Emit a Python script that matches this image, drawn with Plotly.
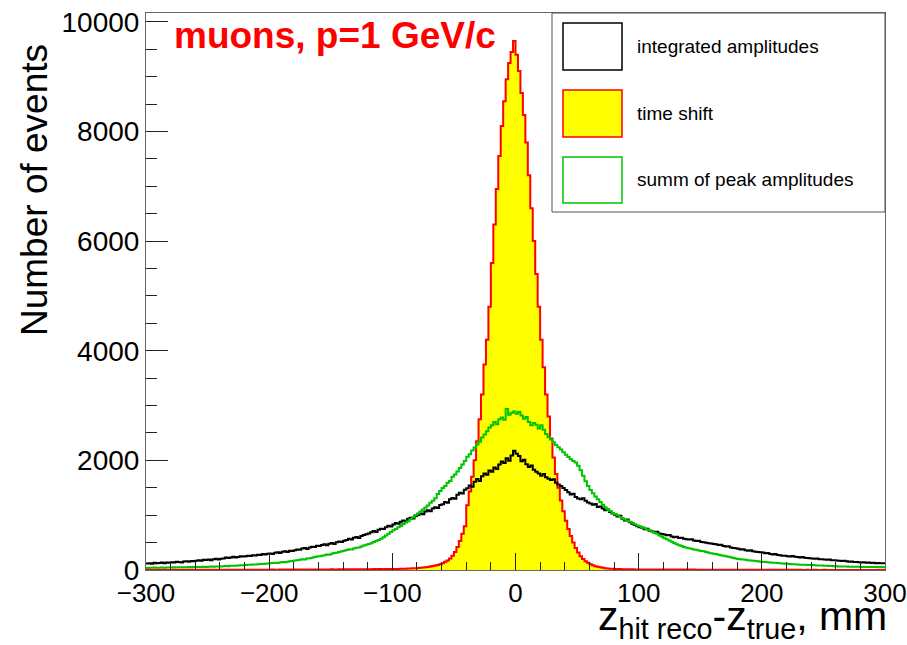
import numpy as np
import plotly.graph_objects as go

# ---------------- data ----------------
x_min, x_max, bin_width = -300.0, 300.0, 2.0

integrated_amplitudes = [
    118, 125, 112, 130, 122, 128, 135, 124, 138, 131,
    142, 136, 150, 147, 139, 155, 160, 149, 166, 158,
    170, 176, 168, 185, 181, 190, 178, 196, 203, 192,
    205, 212, 226, 218, 230, 241, 228, 236, 252, 244,
    250, 262, 255, 271, 266, 280, 274, 290, 283, 296,
    301, 294, 315, 322, 310, 334, 340, 328, 352, 346,
    362, 375, 368, 390, 402, 385, 411, 425, 418, 441,
    436, 458, 470, 452, 481, 492, 476, 505, 520, 511,
    532, 548, 570, 556, 589, 602, 585, 621, 640, 652,
    668, 690, 712, 695, 735, 752, 748, 781, 806, 795,
    830, 858, 842, 880, 905, 890, 935, 952, 940, 985,
    1002, 1030, 1015, 1065, 1088, 1070, 1120, 1145, 1132, 1185,
    1198, 1240, 1225, 1290, 1315, 1298, 1372, 1410, 1395, 1462,
    1490, 1542, 1518, 1610, 1658, 1625, 1712, 1760, 1738, 1815,
    1790, 1868, 1842, 1925, 1980, 1952, 2040, 1995, 2090, 2175,
    2120, 2080, 1985, 2010, 1930, 1880, 1905, 1830, 1790, 1760,
    1720, 1750, 1690, 1665, 1640, 1655, 1590, 1560, 1530, 1495,
    1460, 1420, 1375, 1390, 1330, 1305, 1290, 1310, 1265, 1230,
    1215, 1190, 1205, 1150, 1160, 1120, 1090, 1105, 1060, 1030,
    1010, 975, 990, 935, 905, 920, 870, 845, 820, 800,
    780, 772, 745, 752, 718, 705, 690, 698, 668, 655,
    648, 632, 640, 612, 598, 605, 585, 590, 570, 562,
    555, 562, 540, 528, 535, 512, 505, 498, 490, 482,
    476, 468, 455, 462, 440, 428, 435, 410, 402, 395,
    388, 375, 380, 362, 352, 358, 340, 335, 328, 322,
    318, 305, 310, 292, 285, 290, 272, 268, 262, 258,
    252, 248, 256, 240, 236, 230, 235, 222, 218, 215,
    212, 205, 210, 198, 195, 190, 186, 192, 180, 176,
    172, 168, 162, 170, 158, 152, 156, 148, 145, 141,
    138, 142, 132, 135, 128, 131, 124, 128, 122, 125,
]

time_shift = [
    2, 3, 1, 2, 3, 2, 2, 3, 2, 1,
    2, 3, 2, 2, 3, 2, 3, 2, 3, 3,
    3, 2, 3, 4, 3, 3, 4, 3, 4, 3,
    4, 3, 4, 4, 5, 4, 4, 5, 4, 5,
    5, 4, 5, 6, 5, 5, 6, 5, 6, 6,
    6, 7, 6, 6, 7, 7, 6, 8, 7, 7,
    8, 7, 8, 9, 8, 8, 9, 8, 10, 9,
    9, 10, 9, 11, 10, 12, 11, 10, 12, 11,
    12, 11, 13, 12, 14, 13, 12, 15, 14, 13,
    14, 15, 16, 14, 17, 16, 15, 18, 17, 19,
    18, 20, 19, 22, 24, 23, 26, 28, 30, 33,
    36, 40, 44, 50, 56, 64, 72, 82, 92, 105,
    125, 150, 175, 210, 260, 330, 420, 530, 660, 800,
    1180, 1430, 1700, 2000, 2350, 2750, 3200, 3750, 4200, 4800,
    5600, 6300, 6950, 7550, 8100, 8550, 8950, 9250, 9450, 9650,
    9400, 9100, 8700, 8300, 7800, 7200, 6600, 6000, 5400, 4800,
    4200, 3700, 3200, 2800, 2400, 2050, 1750, 1500, 1270, 1070,
    900, 750, 620, 500, 400, 320, 250, 200, 160, 130,
    105, 85, 70, 58, 48, 40, 34, 29, 25, 22,
    20, 18, 17, 15, 14, 13, 13, 12, 11, 11,
    10, 11, 9, 10, 9, 10, 8, 9, 9, 8,
    8, 9, 7, 8, 8, 7, 8, 7, 6, 7,
    7, 6, 7, 6, 5, 6, 6, 5, 6, 5,
    5, 6, 5, 4, 5, 5, 4, 5, 4, 4,
    4, 5, 4, 4, 3, 4, 4, 3, 4, 3,
    3, 4, 3, 3, 4, 3, 3, 2, 3, 3,
    3, 2, 3, 3, 2, 3, 2, 2, 3, 2,
    2, 3, 2, 2, 2, 3, 2, 2, 1, 2,
    2, 2, 1, 2, 2, 1, 2, 2, 1, 2,
    1, 2, 1, 1, 2, 1, 1, 2, 1, 1,
]

summ_peak_amplitudes = [
    38, 42, 40, 44, 41, 43, 45, 42, 46, 44,
    46, 48, 45, 50, 49, 51, 48, 53, 52, 54,
    55, 53, 57, 58, 56, 60, 62, 59, 64, 66,
    65, 68, 72, 70, 76, 79, 77, 83, 86, 88,
    92, 95, 98, 101, 99, 106, 110, 108, 115, 118,
    122, 126, 132, 129, 138, 144, 141, 152, 160, 165,
    172, 180, 188, 195, 192, 208, 216, 222, 235, 246,
    252, 262, 270, 282, 278, 296, 308, 315, 330, 342,
    352, 365, 378, 372, 392, 405, 412, 430, 448, 462,
    475, 490, 512, 530, 548, 572, 596, 628, 660, 695,
    725, 748, 782, 802, 840, 865, 890, 925, 962, 1002,
    1030, 1065, 1102, 1140, 1175, 1228, 1262, 1310, 1385, 1440,
    1495, 1530, 1590, 1625, 1700, 1740, 1795, 1860, 1925, 1990,
    2065, 2110, 2180, 2235, 2290, 2340, 2415, 2470, 2530, 2600,
    2640, 2700, 2660, 2750, 2780, 2740, 2935, 2830, 2870, 2890,
    2850, 2880, 2820, 2760, 2790, 2700, 2640, 2680, 2650, 2580,
    2640, 2560, 2480, 2420, 2380, 2330, 2280, 2240, 2200, 2150,
    2100, 2060, 2020, 1990, 1960, 1900, 1820, 1720, 1620, 1530,
    1460, 1400, 1340, 1290, 1240, 1190, 1145, 1105, 1075, 1040,
    1020, 1000, 965, 940, 920, 905, 880, 860, 835, 812,
    800, 782, 760, 740, 725, 700, 680, 660, 630, 605,
    580, 560, 538, 515, 492, 470, 452, 438, 420, 405,
    398, 388, 375, 368, 355, 348, 340, 328, 315, 305,
    298, 292, 280, 270, 262, 252, 240, 232, 218, 208,
    202, 195, 190, 185, 178, 175, 168, 162, 158, 152,
    148, 144, 140, 136, 132, 130, 126, 122, 118, 116,
    114, 110, 106, 104, 100, 98, 96, 94, 92, 90,
    89, 86, 84, 82, 80, 78, 76, 74, 72, 70,
    69, 66, 65, 63, 62, 61, 60, 59, 58, 58,
    57, 56, 55, 56, 54, 53, 54, 52, 53, 52,
]

legend_labels = ["integrated amplitudes", "time shift", "summ of peak amplitudes"]
x_ticks = [-300, -200, -100, 0, 100, 200, 300]
y_ticks = [0, 2000, 4000, 6000, 8000, 10000]
y_tick_text = ["0", "2000", "4000", "6000", "8000", "10000"]

# ---------------- figure ----------------
W, H = 907, 645
L, R, T, B = 146, 885, 13, 570   # frame in pixels


def px(x):
    return (x - L) / (R - L)


def py(y):
    return (B - y) / (B - T)


n_bins = len(time_shift)
edges = x_min + bin_width * np.arange(n_bins + 1)


def step(vals):
    v = list(vals) + [vals[-1]]
    return edges, v


FONT = "Liberation Sans, Arial, Helvetica, sans-serif"
GREEN = "#00c400"
LW = 2

fig = go.Figure()
xs, ys = step(time_shift)
fig.add_trace(go.Scatter(x=xs, y=ys, mode="lines", line=dict(color="#ff0000", width=LW, shape="hv"),
                         fill="tozeroy", fillcolor="#ffff00", name=legend_labels[1], showlegend=False))
xs, ys = step(integrated_amplitudes)
fig.add_trace(go.Scatter(x=xs, y=ys, mode="lines", line=dict(color="#000000", width=LW, shape="hv"),
                         name=legend_labels[0], showlegend=False))
xs, ys = step(summ_peak_amplitudes)
fig.add_trace(go.Scatter(x=xs, y=ys, mode="lines", line=dict(color=GREEN, width=LW, shape="hv"),
                         name=legend_labels[2], showlegend=False))

fig.update_layout(
    width=W, height=H,
    margin=dict(l=L, r=W - R, t=T, b=H - B, pad=0, autoexpand=False),
    paper_bgcolor="white", plot_bgcolor="white",
    font=dict(family=FONT, color="black"),
    xaxis=dict(range=[x_min, x_max], tickvals=x_ticks, ticks="inside", ticklen=17, tickwidth=1,
               tickcolor="#222", showline=True, linecolor="#666", linewidth=1, mirror=True,
               showgrid=False, zeroline=False, tickfont=dict(size=26, family=FONT), automargin=False,
               minor=dict(dtick=20, tick0=0, ticks="inside", ticklen=8, tickcolor="#222", showgrid=False)),
    yaxis=dict(range=[0, 10160], tickvals=y_ticks, ticktext=y_tick_text, ticks="inside", ticklen=22,
               tickwidth=1, tickcolor="#222", showline=True, linecolor="#666", linewidth=1, mirror=True,
               showgrid=False, zeroline=False, tickfont=dict(size=28, family=FONT), automargin=False,
               minor=dict(dtick=500, tick0=0, ticks="inside", ticklen=11, tickcolor="#222", showgrid=False)),
)

annotations = [
    dict(text="Number of events", x=px(34), y=py(190), xref="paper", yref="paper",
         textangle=-90, showarrow=False, xanchor="center", yanchor="middle",
         font=dict(size=37, family=FONT, color="black")),
    dict(text="z<sub>hit reco</sub>-z<sub>true</sub>, mm", x=px(889), y=py(619), xref="paper", yref="paper",
         showarrow=False, xanchor="right", yanchor="middle",
         font=dict(size=41, family=FONT, color="black")),
    dict(text="<b>muons, p=1 GeV/c</b>", x=px(172), y=py(35), xref="paper", yref="paper",
         showarrow=False, xanchor="left", yanchor="middle",
         font=dict(size=37, family=FONT, color="#ff0000")),
]

shapes = [
    dict(type="rect", xref="paper", yref="paper", x0=px(552), x1=px(885), y0=py(212), y1=py(13),
         line=dict(color="#555", width=1), fillcolor="white", layer="above"),
]
box_rows = [(23, 70), (90, 137), (157, 203)]
box_styles = [("#000000", "white"), ("#ff0000", "#ffff00"), (GREEN, "white")]
for (y0, y1), (lc, fc), lab in zip(box_rows, box_styles, legend_labels):
    shapes.append(dict(type="rect", xref="paper", yref="paper", x0=px(563), x1=px(622),
                       y0=py(y1), y1=py(y0), line=dict(color=lc, width=1.5), fillcolor=fc, layer="above"))
    annotations.append(dict(text=lab, x=px(635), y=py((y0 + y1) / 2), xref="paper", yref="paper",
                            showarrow=False, xanchor="left", yanchor="middle",
                            font=dict(size=19, family=FONT, color="black")))

fig.update_layout(annotations=annotations, shapes=shapes)
fig.write_html("out.html")
